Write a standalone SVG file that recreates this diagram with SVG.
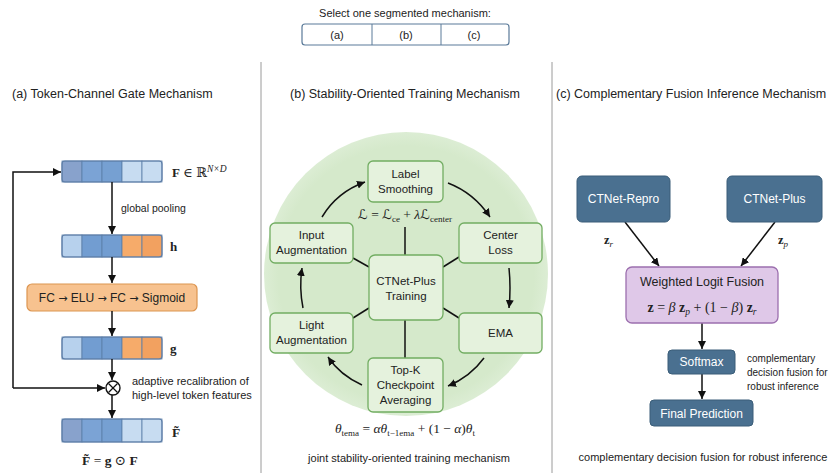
<svg xmlns="http://www.w3.org/2000/svg" width="834" height="473" viewBox="0 0 834 473">
<defs>
<marker id="arr" viewBox="0 0 10 10" refX="10" refY="5" markerUnits="userSpaceOnUse" markerWidth="8" markerHeight="8" orient="auto"><path d="M0,0 L10,5 L0,10 z" fill="#111"/></marker>
<radialGradient id="bg" cx="0.5" cy="0.5" r="0.5"><stop offset="0.9" stop-color="#d5e9cb"/><stop offset="1" stop-color="#dcedd4"/></radialGradient>
</defs>
<style>
.s{font-family:"Liberation Sans",Arial,sans-serif;fill:#222}
.m{font-family:"Liberation Serif","DejaVu Serif",serif;fill:#222}
.ttl{font-size:12.5px}
.lbl{font-size:11px}
.bx{font-size:11.5px;text-anchor:middle}
.gb{fill:#e5f2dd;stroke:#72ad62;stroke-width:1.3}
.db{fill:#4a7090;stroke:#3a5d78;stroke-width:1}
.wt{font-family:"Liberation Sans",Arial,sans-serif;fill:#fff;font-size:12px;text-anchor:middle}
.ln{stroke:#111;stroke-width:1.5;fill:none}
.ar{stroke:#111;stroke-width:1.5;fill:none;marker-end:url(#arr)}
.cb{stroke:#5a7ea8;stroke-width:0.8}
.vo{fill:none;stroke:#5f7fa8;stroke-width:1.2}
.cal{font-family:"DejaVu Sans",sans-serif;font-style:italic}
.arw{font-family:"DejaVu Sans",sans-serif;font-size:11px}
</style>
<rect width="834" height="473" fill="#fff"/>

<!-- selector -->
<g id="selector">
<text class="s" x="405" y="17" font-size="11" text-anchor="middle">Select one segmented mechanism:</text>
<rect x="302" y="24" width="207" height="21" rx="3" fill="#fff" stroke="#5a7a99" stroke-width="1.2"/>
<line x1="372" y1="24" x2="372" y2="45" stroke="#5a7a99" stroke-width="1"/>
<line x1="441" y1="24" x2="441" y2="45" stroke="#5a7a99" stroke-width="1"/>
<text class="s" x="337" y="39" font-size="11" text-anchor="middle">(a)</text>
<text class="s" x="406" y="39" font-size="11" text-anchor="middle">(b)</text>
<text class="s" x="474" y="39" font-size="11" text-anchor="middle">(c)</text>
</g>

<g id="dividers">
<line x1="261" y1="62" x2="261" y2="473" stroke="#9a9a9a" stroke-width="1"/>
<line x1="552" y1="62" x2="552" y2="473" stroke="#9a9a9a" stroke-width="1"/>
</g>

<!-- Panel a -->
<text class="s ttl" x="12" y="98">(a) Token-Channel Gate Mechanism</text>

<g id="vecF">
<rect x="62" y="161" width="20" height="21" fill="#88a2cc" class="cb"/>
<rect x="82" y="161" width="20" height="21" fill="#7ba3d5" class="cb"/>
<rect x="102" y="161" width="20" height="21" fill="#76a0d2" class="cb"/>
<rect x="122" y="161" width="20" height="21" fill="#c7dcf1" class="cb"/>
<rect x="142" y="161" width="20" height="21" fill="#c7dcf1" class="cb"/>
<rect x="62" y="161" width="100" height="21" rx="3" class="vo"/>
<text class="m" x="172" y="177" font-size="13"><tspan font-weight="bold">F</tspan> ∈ ℝ<tspan font-style="italic" font-size="9.5" baseline-shift="5">N×D</tspan></text>
</g>

<g id="vecH">
<rect x="62" y="235" width="20" height="22" fill="#b7d1ed" class="cb"/>
<rect x="82" y="235" width="20" height="22" fill="#729dd1" class="cb"/>
<rect x="102" y="235" width="20" height="22" fill="#729dd1" class="cb"/>
<rect x="122" y="235" width="20" height="22" fill="#f6ab6a" class="cb"/>
<rect x="142" y="235" width="20" height="22" fill="#f2a160" class="cb"/>
<rect x="62" y="235" width="100" height="22" rx="3" class="vo"/>
<text class="m" x="170" y="251" font-size="13" font-weight="bold">h</text>
</g>

<g id="fc">
<rect x="27" y="284" width="170" height="27" rx="5" fill="#f7c28f" stroke="#dc9550" stroke-width="1.2"/>
<text class="s" x="112" y="302" font-size="12" text-anchor="middle">FC <tspan class="arw">→</tspan> ELU <tspan class="arw">→</tspan> FC <tspan class="arw">→</tspan> Sigmoid</text>
</g>

<g id="vecG">
<rect x="62" y="337" width="20" height="22" fill="#b7d1ed" class="cb"/>
<rect x="82" y="337" width="20" height="22" fill="#729dd1" class="cb"/>
<rect x="102" y="337" width="20" height="22" fill="#729dd1" class="cb"/>
<rect x="122" y="337" width="20" height="22" fill="#f6ab6a" class="cb"/>
<rect x="142" y="337" width="20" height="22" fill="#f2a160" class="cb"/>
<rect x="62" y="337" width="100" height="22" rx="3" class="vo"/>
<text class="m" x="170" y="353" font-size="13" font-weight="bold">g</text>
</g>

<g id="mult">
<circle cx="113" cy="388" r="7" fill="#fff" stroke="#111" stroke-width="1.4"/>
<line x1="108.5" y1="383.5" x2="117.5" y2="392.5" stroke="#111" stroke-width="1.3"/>
<line x1="117.5" y1="383.5" x2="108.5" y2="392.5" stroke="#111" stroke-width="1.3"/>
<text class="s lbl" x="132" y="385">adaptive recalibration of</text>
<text class="s lbl" x="132" y="399">high-level token features</text>
</g>

<g id="vecFt">
<rect x="62" y="419" width="20" height="23" fill="#88a2cc" class="cb"/>
<rect x="82" y="419" width="20" height="23" fill="#7ba3d5" class="cb"/>
<rect x="102" y="419" width="20" height="23" fill="#76a0d2" class="cb"/>
<rect x="122" y="419" width="20" height="23" fill="#c7dcf1" class="cb"/>
<rect x="142" y="419" width="20" height="23" fill="#c7dcf1" class="cb"/>
<rect x="62" y="419" width="100" height="23" rx="3" class="vo"/>
<text class="m" x="172" y="437" font-size="13.5" font-weight="bold">F̃</text>
<text class="m" x="82" y="465" font-size="13.5"><tspan font-weight="bold">F̃</tspan> = <tspan font-weight="bold">g</tspan> ⊙ <tspan font-weight="bold">F</tspan></text>
</g>

<g id="conn-a">
<line class="ar" x1="112" y1="182" x2="112" y2="234"/>
<text class="s" x="121" y="212" font-size="10.5">global pooling</text>
<line class="ar" x1="112" y1="257" x2="112" y2="283"/>
<line class="ar" x1="112" y1="311" x2="112" y2="336"/>
<line class="ar" x1="112" y1="359" x2="112" y2="380"/>
<line class="ar" x1="112" y1="395" x2="112" y2="418"/>
<path class="ar" d="M13,388 V172 H61"/>
<line class="ar" x1="13" y1="388" x2="105" y2="388"/>
</g>

<!-- Panel b -->
<text class="s ttl" x="405" y="98" text-anchor="middle">(b) Stability-Oriented Training Mechanism</text>
<circle cx="406" cy="274" r="142" fill="url(#bg)"/>

<g id="conn-b">
<line class="ln" x1="405" y1="227" x2="405" y2="255"/>
<line class="ln" x1="353" y1="258" x2="369" y2="267"/>
<line class="ln" x1="443" y1="267" x2="459" y2="257"/>
<line class="ln" x1="353" y1="318" x2="369" y2="308"/>
<line class="ln" x1="443" y1="308" x2="459" y2="318"/>
<line class="ln" x1="405" y1="320" x2="405" y2="358"/>
<path class="ar" d="M322,217 Q337,192 365,182"/>
<path class="ar" d="M448,183 Q474,193 490,217"/>
<path class="ar" d="M509,268 Q511,288 509,308"/>
<path class="ar" d="M484,358 Q470,377 448,386"/>
<path class="ar" d="M362,385 Q340,375 328,357"/>
<path class="ar" d="M303,308 Q299,288 302,268"/>
</g>

<g id="labelSmoothing">
<rect class="gb" x="368" y="161" width="75" height="41" rx="5"/>
<text class="s bx" x="405.5" y="178">Label</text>
<text class="s bx" x="405.5" y="193">Smoothing</text>
</g>
<text class="m" x="405" y="219" font-size="13.5" text-anchor="middle"><tspan class="cal">ℒ</tspan> = <tspan class="cal">ℒ</tspan><tspan font-size="9" baseline-shift="-2.5">ce</tspan> + <tspan font-style="italic">λ</tspan><tspan class="cal">ℒ</tspan><tspan font-size="9" baseline-shift="-2.5">center</tspan></text>

<g id="inputAug">
<rect class="gb" x="270" y="223" width="83" height="40" rx="5"/>
<text class="s bx" x="311.5" y="239">Input</text>
<text class="s bx" x="311.5" y="254">Augmentation</text>
</g>
<g id="centerLoss">
<rect class="gb" x="459" y="223" width="83" height="40" rx="5"/>
<text class="s bx" x="500.5" y="239">Center</text>
<text class="s bx" x="500.5" y="254">Loss</text>
</g>
<g id="ctnetTraining">
<rect class="gb" x="369" y="255" width="74" height="65" rx="6"/>
<text class="s bx" x="406" y="285">CTNet-Plus</text>
<text class="s bx" x="406" y="300">Training</text>
</g>
<g id="lightAug">
<rect class="gb" x="270" y="313" width="83" height="40" rx="5"/>
<text class="s bx" x="311.5" y="329">Light</text>
<text class="s bx" x="311.5" y="344">Augmentation</text>
</g>
<g id="ema">
<rect class="gb" x="459" y="313" width="83" height="40" rx="5"/>
<text class="s bx" x="500.5" y="337">EMA</text>
</g>
<g id="topk">
<rect class="gb" x="368" y="358" width="75" height="54" rx="5"/>
<text class="s bx" x="405.5" y="374">Top-K</text>
<text class="s bx" x="405.5" y="389">Checkpoint</text>
<text class="s bx" x="405.5" y="404">Averaging</text>
</g>
<text class="m" x="405" y="433" font-size="13.5" text-anchor="middle"><tspan font-style="italic">θ</tspan><tspan font-size="9" baseline-shift="-2.5">tema</tspan> = <tspan font-style="italic">αθ</tspan><tspan font-size="9" baseline-shift="-2.5">t−1ema</tspan> + (1 − <tspan font-style="italic">α</tspan>)<tspan font-style="italic">θ</tspan><tspan font-size="9" baseline-shift="-2.5">t</tspan></text>
<text class="s lbl" x="409" y="462" text-anchor="middle">joint stability-oriented training mechanism</text>

<!-- Panel c -->
<text class="s ttl" x="556" y="98">(c) Complementary Fusion Inference Mechanism</text>

<g id="conn-c">
<line class="ar" x1="625" y1="222" x2="659" y2="266"/>
<line class="ar" x1="775" y1="222" x2="741" y2="266"/>
<line class="ar" x1="702" y1="323" x2="702" y2="349"/>
<line class="ar" x1="702" y1="374" x2="702" y2="399"/>
<text class="m" x="604" y="244" font-size="12.5"><tspan font-weight="bold">z</tspan><tspan font-style="italic" font-size="9" baseline-shift="-2.5">r</tspan></text>
<text class="m" x="778" y="244" font-size="12.5"><tspan font-weight="bold">z</tspan><tspan font-style="italic" font-size="9" baseline-shift="-2.5">p</tspan></text>
</g>

<g id="ctnetRepro">
<rect class="db" x="577" y="176" width="93" height="46" rx="5"/>
<text class="wt" x="623.5" y="203" font-size="12.5">CTNet-Repro</text>
</g>
<g id="ctnetPlus">
<rect class="db" x="727" y="176" width="95" height="46" rx="5"/>
<text class="wt" x="774.5" y="203" font-size="12.5">CTNet-Plus</text>
</g>
<g id="fusion">
<rect x="626" y="267" width="152" height="56" rx="6" fill="#dfc8e8" stroke="#9c6fae" stroke-width="1.3"/>
<text class="s" x="702" y="286" font-size="12.5" text-anchor="middle">Weighted Logit Fusion</text>
<text class="m" x="702" y="312" font-size="14" text-anchor="middle"><tspan font-weight="bold">z</tspan> = <tspan font-style="italic">β</tspan> <tspan font-weight="bold">z</tspan><tspan font-style="italic" font-size="9.5" baseline-shift="-2.5">p</tspan> + (1 − <tspan font-style="italic">β</tspan>) <tspan font-weight="bold">z</tspan><tspan font-style="italic" font-size="9.5" baseline-shift="-2.5">r</tspan></text>
</g>
<g id="softmax">
<rect class="db" x="668" y="350" width="67" height="24" rx="4"/>
<text class="wt" x="701.5" y="366">Softmax</text>
</g>
<g id="finalPred">
<rect class="db" x="650" y="400" width="103" height="26" rx="4"/>
<text class="wt" x="701.5" y="417.5">Final Prediction</text>
</g>
<g id="sideNote" class="s" font-size="10">
<text x="747" y="362">complementary</text>
<text x="747" y="376">decision fusion for</text>
<text x="747" y="390">robust inference</text>
</g>
<text class="s lbl" x="703" y="461" text-anchor="middle">complementary decision fusion for robust inference</text>
</svg>
